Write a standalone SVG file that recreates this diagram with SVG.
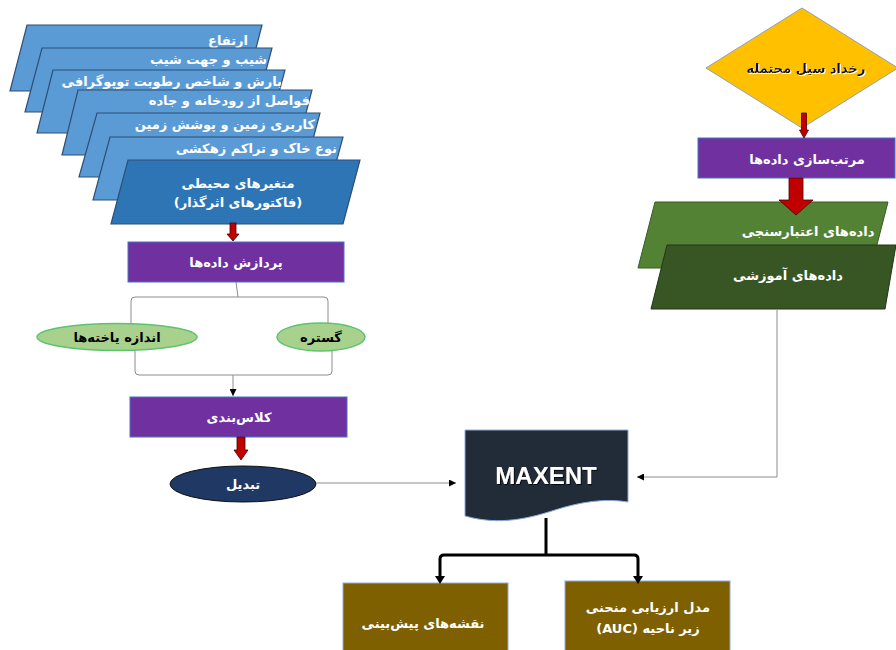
<svg xmlns="http://www.w3.org/2000/svg" width="896" height="650" viewBox="0 0 896 650">
<defs>
<style>
.fa{font-family:"DejaVu Sans","Noto Sans",sans-serif;font-weight:bold;font-size:13px;fill:#fff}
.pl{fill:#5B9BD5;stroke:#2F4F75;stroke-width:1.2}
.pd{fill:#2E75B6;stroke:#2F4F75;stroke-width:1.2}
.pu{fill:#7030A0;stroke:#4472C4;stroke-width:1}
.ra{fill:#C00000;stroke:#4a0000;stroke-width:0.8}
.gl{fill:#A9D18E;stroke:#5CC46C;stroke-width:1.5}
.br{fill:#7F6000;stroke:#8FAADC;stroke-width:1}
.ln{fill:none;stroke:#8C8C8C;stroke-width:1}
.tk{fill:none;stroke:#000;stroke-width:3;stroke-linejoin:round}
.dk{fill:#000}
</style>
<marker id="ah" viewBox="0 0 10 10" refX="10" refY="5" markerWidth="7" markerHeight="7" markerUnits="userSpaceOnUse" orient="auto"><path d="M0,0 L10,5 L0,10 Z" fill="#000"/></marker>
<filter id="sh" x="-10%" y="-20%" width="130%" height="150%"><feDropShadow dx="1" dy="1" stdDeviation="0.6" flood-color="#000" flood-opacity="0.8"/></filter>
<filter id="glow" x="-10%" y="-30%" width="120%" height="160%"><feDropShadow dx="1" dy="1" stdDeviation="0.5" flood-color="#fff" flood-opacity="1"/></filter>
</defs>

<g id="p1"><path class="pl" d="M27,25 H262 L245,91 H10 Z"/><text class="fa" x="248" y="45" text-anchor="end">ارتفاع</text></g>
<g id="p2"><path class="pl" d="M42,48 H272 L255,112 H25 Z"/><text class="fa" x="267" y="64" text-anchor="end">شیب و جهت شیب</text></g>
<g id="p3"><path class="pl" d="M53,70 H285 L268,133 H37 Z"/><text class="fa" x="282" y="86" text-anchor="end">بارش و شاخص رطوبت توپوگرافی</text></g>
<g id="p4"><path class="pl" d="M78,90 H312 L295,155 H62 Z"/><text class="fa" x="310" y="105" text-anchor="end">فواصل از رودخانه و جاده</text></g>
<g id="p5"><path class="pl" d="M97,113 H320 L303,177 H79 Z"/><text class="fa" x="315" y="129" text-anchor="end">کاربری زمین و پوشش زمین</text></g>
<g id="p6"><path class="pl" d="M110,137 H343 L326,200 H93 Z"/><text class="fa" x="337" y="153" text-anchor="end">نوع خاک و تراکم زهکشی</text></g>
<g id="p7"><path class="pd" d="M128,160 H360 L343,224 H111 Z"/><text class="fa" x="238" y="188" text-anchor="middle">متغیرهای محیطی</text><text class="fa" x="238" y="207" text-anchor="middle">(فاکتورهای اثرگذار)</text></g>

<g id="process"><rect class="pu" x="128" y="242" width="216" height="40"/><text class="fa" x="236" y="267" text-anchor="middle">پردازش داده‌ها</text></g>
<g id="cellsize"><ellipse class="gl" cx="117" cy="337" rx="80" ry="13.5"/><text class="fa" x="117" y="342" text-anchor="middle" style="fill:#000">اندازه یاخته‌ها</text></g>
<g id="extent"><ellipse class="gl" cx="321" cy="337" rx="44" ry="14"/><text class="fa" x="321" y="342" text-anchor="middle" style="fill:#000">گستره</text></g>
<g id="classify"><rect class="pu" x="130" y="397" width="217" height="40"/><text class="fa" x="239" y="422" text-anchor="middle">کلاس‌بندی</text></g>
<g id="convert"><ellipse cx="243" cy="484" rx="73" ry="18" fill="#1F3864" stroke="#111" stroke-width="1"/><text class="fa" x="243" y="489" text-anchor="middle">تبدیل</text></g>

<g id="flood"><path d="M802,8 L898,68 L802,128 L706,68 Z" fill="#FFC000" stroke="#8FA0B8" stroke-width="1"/><text class="fa" x="806" y="73" text-anchor="middle" style="fill:#111" filter="url(#glow)">رخداد سیل محتمله</text></g>
<g id="sort"><rect class="pu" x="698" y="138" width="197" height="40"/><text class="fa" x="807" y="164" text-anchor="middle">مرتب‌سازی داده‌ها</text></g>
<g id="validation"><path d="M655,202 H888 L871,268 H638 Z" fill="#548235" stroke="#3A5A25" stroke-width="1"/><text class="fa" x="808" y="236" text-anchor="middle">داده‌های اعتبارسنجی</text></g>
<g id="training"><path d="M667,245 H896 L885,309 H651 Z" fill="#375623" stroke="#22351A" stroke-width="1"/><text class="fa" x="788" y="280" text-anchor="middle">داده‌های آموزشی</text></g>

<g id="maxent"><path d="M465,430 H628 V502 C605,498 580,502 555,510 C530,518 500,526 465,516 Z" fill="#222B38" stroke="#8FAADC" stroke-width="1"/><text x="546" y="484" text-anchor="middle" font-family="Liberation Sans, Arial, sans-serif" font-weight="bold" font-size="24" fill="#fff" filter="url(#sh)">MAXENT</text></g>

<g id="maps"><rect class="br" x="343" y="583" width="165" height="70"/><text class="fa" x="423" y="628" text-anchor="middle">نقشه‌های پیش‌بینی</text></g>
<g id="auc"><rect class="br" x="565" y="581" width="165" height="72"/><text class="fa" x="648" y="612" text-anchor="middle">مدل ارزیابی منحنی</text><text class="fa" x="648" y="633" text-anchor="middle" direction="rtl">زیر ناحیه (AUC)</text></g>

<g id="connectors">
<path class="ln" d="M236,282 L238,297"/>
<path class="ln" d="M131,323.5 V301 Q131,297 135,297 H324 Q328,297 328,301 V323"/>
<path class="ln" d="M135,350.5 V371 Q135,375 139,375 H328 Q332,375 332,371 V350.6"/>
<path class="ln" d="M233,375 V396" marker-end="url(#ah)"/>
<path class="ln" d="M316,483 H456" marker-end="url(#ah)"/>
<path class="ln" d="M777,309.5 V477 H637" marker-end="url(#ah)"/>
<path class="tk" d="M546,518 V555"/>
<path class="tk" d="M440,578 V559 Q440,555 444,555 H634 Q638,555 638,559 V578"/>
<path class="dk" d="M435,576 L445,576 L440,584 Z"/>
<path class="dk" d="M633,576 L643,576 L638,584 Z"/>
<path class="ra" d="M230,223 H236 V234 H239 L233,241 L227,234 H230 Z"/>
<path class="ra" d="M237,437 H245 V450 H248 L241,460 L234,450 H237 Z"/>
<path class="ra" d="M801.5,113 H806.5 V130 H808.5 L804,138 L799.5,130 H801.5 Z"/>
<path class="ra" d="M789,178 H803 V200 H813 L796,215 L779,200 H789 Z"/>
</g>
</svg>
